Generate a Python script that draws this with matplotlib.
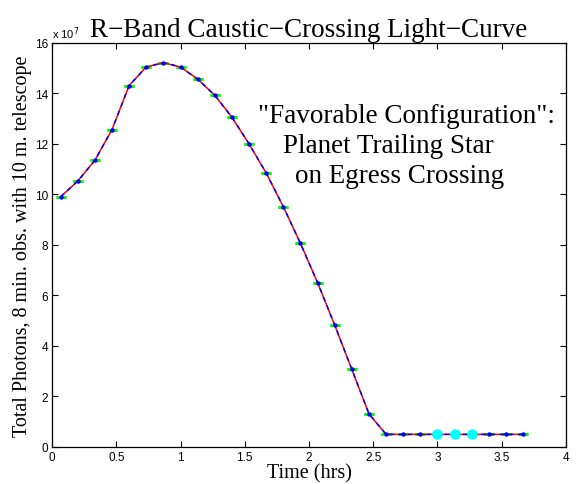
import matplotlib
matplotlib.use('Agg')
import matplotlib.pyplot as plt
import numpy as np

# Times of each 8 min exposure (hrs) and photon counts (units of 1e7)
time_hrs = [0.067, 0.200, 0.333, 0.467, 0.600, 0.733, 0.867, 1.000, 1.133, 1.267,
            1.400, 1.533, 1.667, 1.800, 1.933, 2.067, 2.200, 2.333, 2.467, 2.600,
            2.733, 2.867, 3.000, 3.133, 3.267, 3.400, 3.533, 3.667]
photons = [9.91, 10.53, 11.35, 12.57, 14.31, 15.05, 15.22, 15.05, 14.57, 13.93,
           13.06, 12.01, 10.85, 9.52, 8.07, 6.51, 4.83, 3.08, 1.31, 0.50,
           0.50, 0.50, 0.50, 0.50, 0.50, 0.50, 0.50, 0.50]
# highlighted exposures on the flat part
hl_time = [3.000, 3.133, 3.267]
hl_photons = [0.50, 0.50, 0.50]

x = np.array(time_hrs)
y = np.array(photons)
yerr = np.sqrt(y * 1e7) / 1e7  # poisson noise, tiny

serif = ['Liberation Serif', 'DejaVu Serif']
sans = ['Liberation Sans', 'DejaVu Sans']

fig = plt.figure(figsize=(5.76, 4.85), dpi=100)
ax = fig.add_axes([0.0903, 0.0763, 0.8923, 0.833])

ax.errorbar(x, y, yerr=yerr, fmt='none', ecolor='#00ff00', capsize=3.6,
            capthick=2, elinewidth=1, zorder=2)
ax.plot(x, y, color='red', lw=1.1, zorder=3)
ax.plot(x, y, color='blue', lw=1.1, dashes=(3, 3), zorder=4)
ax.plot(x, y, 'o', color='blue', ms=2.2, mec='blue', zorder=5)
ax.plot(hl_time, hl_photons, 'o', color='cyan', ms=6.5, mec='cyan', zorder=6)

ax.set_xlim(0, 4)
ax.set_ylim(0, 16)
ax.set_xticks(np.arange(0, 4.01, 0.5))
ax.set_xticklabels(['0', '0.5', '1', '1.5', '2', '2.5', '3', '3.5', '4'])
ax.set_yticks(np.arange(0, 17, 2))
ax.tick_params(direction='in', top=True, right=True, length=4, width=0.8,
               labelsize=8.5, pad=3)
for lab in ax.get_xticklabels() + ax.get_yticklabels():
    lab.set_family(sans)
for s in ax.spines.values():
    s.set_linewidth(0.9)

ax.text(0.0, 1.006, r'x 10$^7$', transform=ax.transAxes, fontsize=8,
        family=sans, ha='left', va='bottom')

ax.set_title('R\u2212Band Caustic\u2212Crossing Light\u2212Curve', fontsize=19.5,
             family=serif, pad=5)
ax.set_xlabel('Time (hrs)', fontsize=14.5, family=serif, labelpad=0)
ax.set_ylabel('Total Photons, 8 min. obs. with 10 m. telescope', fontsize=14.5,
              family=serif, labelpad=2)

ax.text(1.603, 12.87, '"Favorable Configuration":', fontsize=19.5, family=serif,
        va='baseline', ha='left')
ax.text(1.798, 11.68, 'Planet Trailing Star', fontsize=19.5, family=serif,
        va='baseline', ha='left')
ax.text(1.891, 10.50, 'on Egress Crossing', fontsize=19.5, family=serif,
        va='baseline', ha='left')

plt.savefig('out.png', dpi=100)
